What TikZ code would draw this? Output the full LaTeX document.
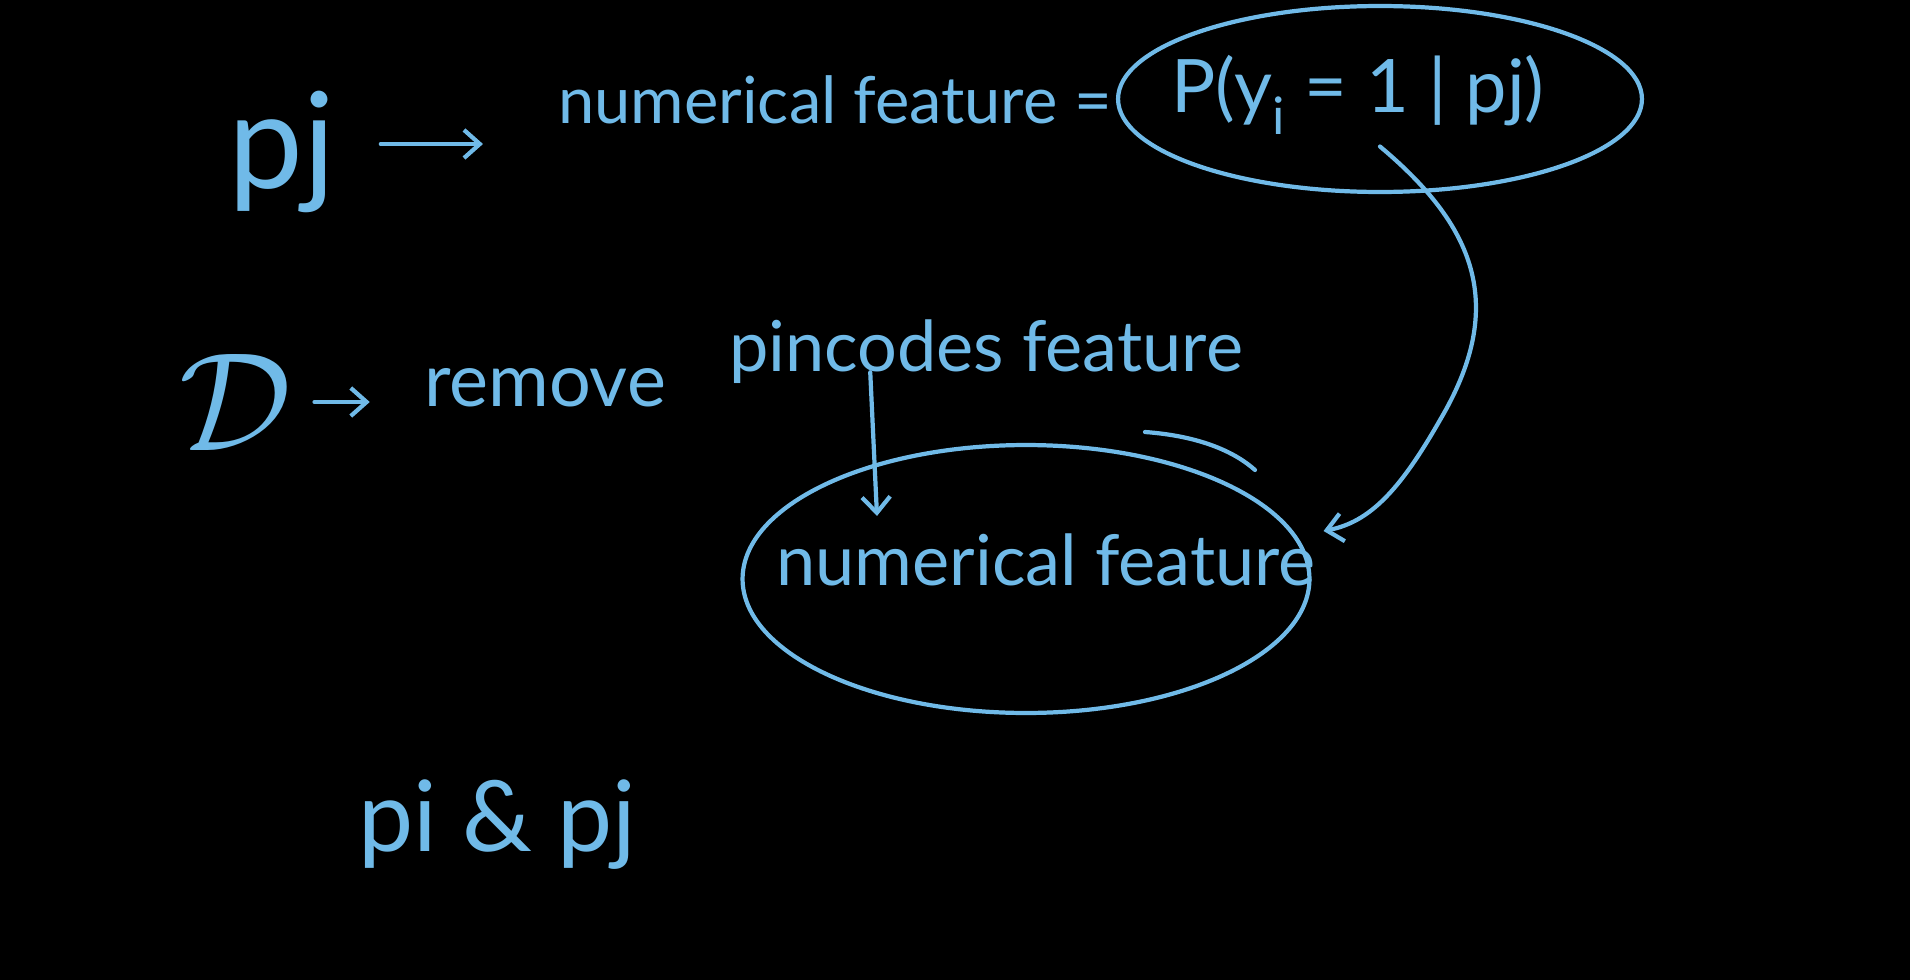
\documentclass[tikz,border=0pt]{standalone}
\usepackage{fontspec}
\setmainfont{Lato}
\usetikzlibrary{shapes.geometric, calc, arrows.meta, positioning}

\definecolor{chalk}{RGB}{112,186,232}

\tikzset{
    pen/.style={draw=chalk, line width=2.4pt, line cap=round, line join=round},
    scrawl/.style={text=chalk, inner sep=0pt},
    loop/.style={pen, ellipse, inner sep=0pt},
}

\begin{document}
\begin{tikzpicture}[x=0.02cm, y=-0.02cm, >={Straight Barb[length=9pt, width=16pt]}]

    \fill[black] (0,0) rectangle (1910,980);
    \useasboundingbox (0,0) rectangle (1910,980);

    % first line
    \node[scrawl, font=\fontsize{76}{80}\selectfont] (pj) at (282,152) {pj};
    \node[scrawl, font=\fontsize{37}{42}\selectfont] (numfeat) at (835,100) {numerical feature =};
    \node[loop, minimum width=10.48cm, minimum height=3.72cm] (prob) at (1380,99) {};
    \node[scrawl, font=\fontsize{42}{46}\selectfont] (probtext) at (1358,95) {P(y\textsubscript{i} = 1 | pj)};

    \draw[pen, ->, shorten <=0.9cm, shorten >=1.5cm] (pj.east |- numfeat) ++(0,44) coordinate (pjarr) -- (pjarr -| numfeat.west);

    % second line
    \node[scrawl] (data) at (236,402) {\scalebox{8}{$\mathcal{D}$}};
    \node[scrawl, font=\fontsize{42}{46}\selectfont] (remove) at (545,388) {remove};
    \node[scrawl, font=\fontsize{40}{44}\selectfont] (pincode) at (986,352) {pincodes feature};

    \draw[pen, ->, shorten <=0.44cm, shorten >=1.08cm] (data.east) -- (data.east -| remove.west);

    % the new feature
    \node[loop, minimum width=11.34cm, minimum height=5.36cm] (newfeat) at (1026,579) {};
    \node[scrawl, font=\fontsize{40}{44}\selectfont] (newtext) at (1046,560) {numerical feature};
    \draw[pen] (1145,432) .. controls (1200,436) and (1235,452) .. (1255,470);

    \coordinate (droptip) at ($(newfeat.north) + (-149,73)$);
    \draw[pen, ->] ($(pincode.south west)!0.275!(pincode.south east) + (0,-12)$) -- (droptip);

    \draw[pen, ->] ($(prob.center)!0.5!(prob.south)$)
        .. controls (1480,230) and (1505,310) .. (1440,420)
        .. controls (1400,490) and (1370,522) .. ([shift={(12,-48)}]newfeat.east);

    % bottom
    \node[scrawl, font=\fontsize{56}{60}\selectfont] (pair) at (497,825) {pi \& pj};

\end{tikzpicture}
\end{document}
